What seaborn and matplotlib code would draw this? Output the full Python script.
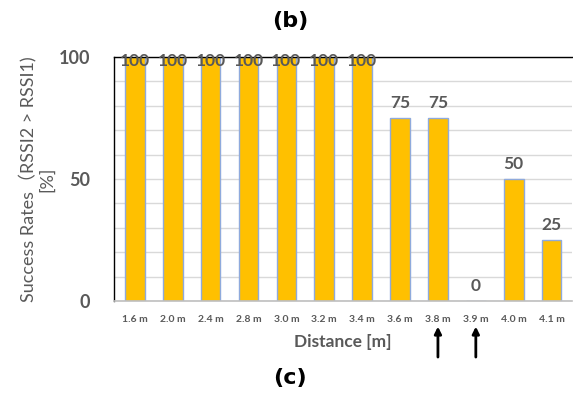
import matplotlib
matplotlib.use("Agg")
import matplotlib.pyplot as plt
import seaborn as sns
import pandas as pd
import numpy as np

distances = ["1.6 m", "2.0 m", "2.4 m", "2.8 m", "3.0 m", "3.2 m", "3.4 m",
             "3.6 m", "3.8 m", "3.9 m", "4.0 m", "4.1 m"]
success = [100, 100, 100, 100, 100, 100, 100, 75, 75, 0, 50, 25]
arrow_at = ["3.8 m", "3.9 m"]

sns.set_theme(style="white")
plt.rcParams['font.family'] = ['Lato', 'Noto Sans CJK JP', 'DejaVu Sans']

df = pd.DataFrame({"Distance": distances, "Success": success})
gray = "#595959"

fig = plt.figure(figsize=(5.73, 3.96), dpi=100)
ax = fig.add_axes([0.199, 0.240, 0.80, 0.616])

sns.barplot(data=df, x="Distance", y="Success", ax=ax, color="#FFC000",
            saturation=1, width=0.52, edgecolor="#8FAADC", linewidth=1)

ax.set_ylim(0, 100)
ax.set_xlim(-0.55, len(distances) - 0.45)
ax.set_yticks([0, 50, 100])
ax.set_yticks(range(10, 100, 10), minor=True)
ax.grid(True, axis="y", which="both", color="#D9D9D9", linewidth=1)
ax.set_axisbelow(True)

for i, v in enumerate(success):
    yc = 98.5 if v >= 100 else v + 6
    ax.text(i, yc, str(v), ha="center", va="center", fontsize=12.5,
            fontweight="bold", color=gray, clip_on=False)

ax.tick_params(axis="y", labelsize=13, colors=gray, length=0, pad=17)
ax.tick_params(axis="x", labelsize=7.5, colors=gray, length=0, pad=10)
for lbl in ax.get_yticklabels() + ax.get_xticklabels():
    lbl.set_fontweight("bold")

ax.set_xlabel("Distance [m]", fontsize=12.5, fontweight="bold", color=gray, labelpad=7)
ax.set_ylabel("Success Rates（RSSI2 > RSSI1)\n[%]", fontsize=13,
              color=gray, labelpad=3, linespacing=1.05)

for s in ["left", "top"]:
    ax.spines[s].set_visible(True)
    ax.spines[s].set_color("black")
    ax.spines[s].set_linewidth(1)
ax.spines["right"].set_visible(False)
ax.spines["bottom"].set_color("#BFBFBF")
ax.spines["bottom"].set_linewidth(1.2)

xt = ax.get_xaxis_transform()
for d in arrow_at:
    i = distances.index(d)
    ax.annotate("", xy=(i, -0.105), xytext=(i, -0.23), xycoords=xt, textcoords=xt,
                arrowprops=dict(arrowstyle="-|>", color="black", lw=2,
                                mutation_scale=10, shrinkA=0, shrinkB=0),
                annotation_clip=False)

fig.text(0.506, 0.948, "(b)", ha="center", va="center", fontsize=16,
         fontweight="bold", color="black", family=["DejaVu Sans"])
fig.text(0.506, 0.045, "(c)", ha="center", va="center", fontsize=16,
         fontweight="bold", color="black", family=["DejaVu Sans"])

fig.savefig("out.png", dpi=100)
